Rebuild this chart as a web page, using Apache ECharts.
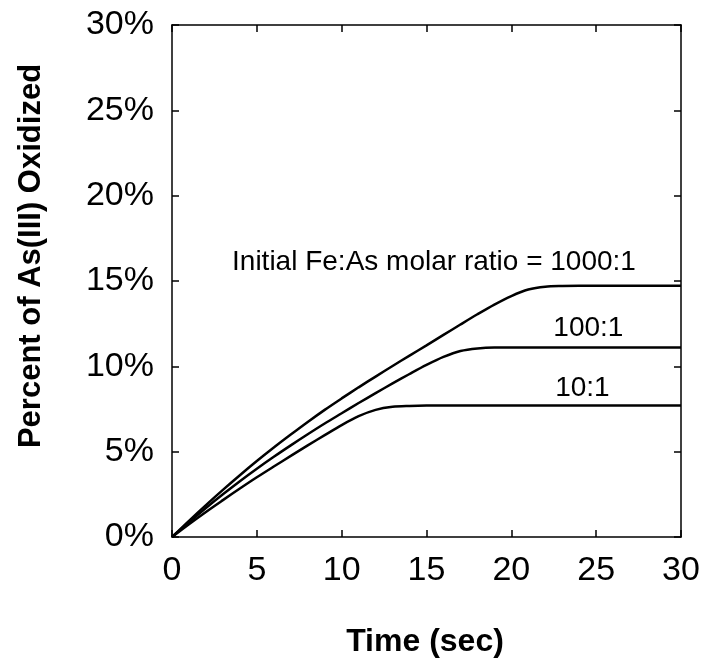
<!DOCTYPE html>
<html><head><meta charset="utf-8">
<script src="https://cdn.jsdelivr.net/npm/echarts@6/dist/echarts.min.js"></script>
<style>html,body{margin:0;padding:0;background:#fff}#c{width:704px;height:665px}</style>
</head><body><div id="c"></div>
<script>
var time = [0,1,2,3,4,5,6,7,8,9,10,11,12,13,14,15,16,17,18,19,20,21,22,23,24,25,26,27,28,29,30];
var ratio1000 = [0,0.95,1.87,2.76,3.62,4.45,5.24,6.0,6.74,7.45,8.12,8.77,9.4,10.02,10.63,11.23,11.84,12.45,13.05,13.62,14.12,14.5,14.67,14.71,14.72,14.72,14.72,14.72,14.72,14.72,14.72];
var ratio100 = [0,0.86,1.7,2.5,3.27,4.0,4.7,5.37,6.02,6.65,7.25,7.85,8.43,9.0,9.55,10.08,10.55,10.9,11.05,11.1,11.1,11.1,11.1,11.1,11.1,11.1,11.1,11.1,11.1,11.1,11.1];
var ratio10 = [0,0.75,1.47,2.16,2.84,3.5,4.13,4.75,5.37,5.97,6.56,7.08,7.45,7.63,7.68,7.7,7.7,7.7,7.7,7.7,7.7,7.7,7.7,7.7,7.7,7.7,7.7,7.7,7.7,7.7,7.7];
var annotations = [
  {text: 'Initial Fe:As molar ratio = 1000:1', coord: [15.44, 16.11]},
  {text: '100:1', coord: [24.54, 12.24]},
  {text: '10:1', coord: [24.19, 8.7]}
];
var xTitle = 'Time (sec)';
var yTitle = 'Percent of As(III) Oxidized';
function pairs(ys){return time.map(function(t,i){return [t, ys[i]];});}
var FONT = 'Liberation Sans, Arial, sans-serif';
var chart = echarts.init(document.getElementById('c'));
var lineStyle = {color:'#000', width:2.5};
function mkSeries(ys, withAnn){
  var s = {type:'line', data:pairs(ys), smooth:0.3, showSymbol:false, symbol:'none', lineStyle:lineStyle, animation:false, z:3};
  if(withAnn){
    s.markPoint = {symbol:'circle', symbolSize:0, animation:false,
      label:{show:true, position:'inside', color:'#000', fontSize:28, fontFamily:FONT, formatter:function(p){return p.name;}},
      data: annotations.map(function(a){return {name:a.text, coord:a.coord};})};
  }
  return s;
}
var tickStyle = {show:true, inside:true, length:7, lineStyle:{color:'#000', width:1.5}};
var axLine = {show:true, onZero:false, lineStyle:{color:'#000', width:1.5}};
chart.setOption({
  backgroundColor:'#fff',
  animation:false,
  grid:{left:172, right:23, top:25, bottom:128},
  xAxis:[{type:'value', min:0, max:30, interval:5,
    axisLine:axLine, axisTick:tickStyle, splitLine:{show:false},
    axisLabel:{color:'#000', fontSize:34, fontFamily:FONT, margin:17}},
   {type:'value', position:'top', min:0, max:30, interval:5,
    axisLine:axLine, axisTick:tickStyle, splitLine:{show:false}, axisLabel:{show:false}}],
  yAxis:[{type:'value', min:0, max:30, interval:5,
    axisLine:axLine, axisTick:tickStyle, splitLine:{show:false},
    axisLabel:{color:'#000', fontSize:34, fontFamily:FONT, margin:18, formatter:'{value}%'}},
   {type:'value', position:'right', min:0, max:30, interval:5,
    axisLine:axLine, axisTick:tickStyle, splitLine:{show:false}, axisLabel:{show:false}}],
  graphic:[
    {type:'text', x:425, y:642, style:{text:xTitle, fill:'#000', font:'bold 32px ' + FONT, align:'center', verticalAlign:'middle'}},
    {type:'text', x:31.5, y:256, rotation:Math.PI/2, style:{text:yTitle, fill:'#000', font:'bold 31px ' + FONT, align:'center', verticalAlign:'middle'}}
  ],
  series:[mkSeries(ratio1000, true), mkSeries(ratio100, false), mkSeries(ratio10, false)]
});
</script></body></html>
